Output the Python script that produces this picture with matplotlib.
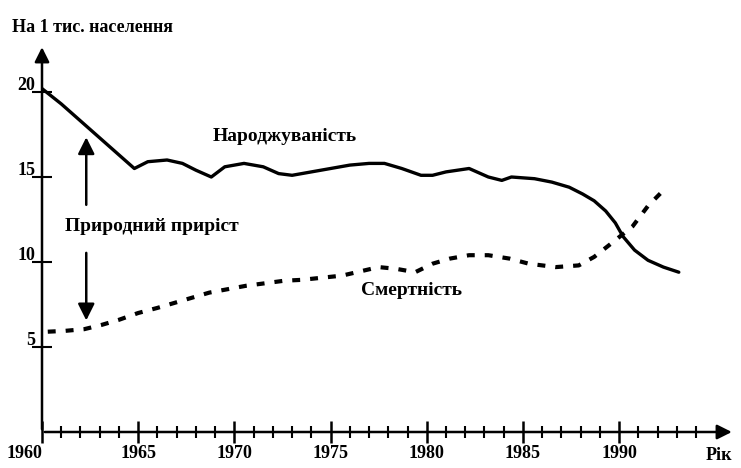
import matplotlib.pyplot as plt
import matplotlib.transforms as mtransforms

plt.rcParams['font.family'] = ['Liberation Serif', 'DejaVu Serif']
plt.rcParams['font.weight'] = 'bold'

# birth rate (solid line), per 1000 people
birth_years = [1960.0, 1961.0, 1962.0, 1963.0, 1964.0, 1964.8, 1965.5, 1966.5, 1967.3,
               1968.0, 1968.8, 1969.5, 1970.5, 1971.5, 1972.3, 1973.0, 1974.0, 1975.0,
               1976.0, 1977.0, 1977.8, 1978.7, 1979.7, 1980.3, 1981.0, 1982.2, 1983.2,
               1983.9, 1984.4, 1985.6, 1986.5, 1987.4, 1988.1, 1988.7, 1989.3, 1989.8,
               1990.2, 1990.8, 1991.5, 1992.3, 1993.1]
birth_rate = [20.2, 19.3, 18.3, 17.3, 16.3, 15.5, 15.9, 16.0, 15.8,
              15.4, 15.0, 15.6, 15.8, 15.6, 15.2, 15.1, 15.3, 15.5,
              15.7, 15.8, 15.8, 15.5, 15.1, 15.1, 15.3, 15.5, 15.0,
              14.8, 15.0, 14.9, 14.7, 14.4, 14.0, 13.6, 13.0, 12.3,
              11.5, 10.7, 10.1, 9.7, 9.4]

# death rate (dashed line)
death_years = [1960.3, 1961.2, 1962.2, 1963.1, 1964.0, 1965.0, 1966.0, 1966.9, 1968.7,
               1970.6, 1972.6, 1973.5, 1975.6, 1977.5, 1978.4, 1979.4, 1980.3, 1981.2,
               1982.2, 1983.2, 1984.3, 1985.3, 1986.7, 1987.9, 1988.7, 1989.6, 1990.7,
               1991.5, 1992.2]
death_rate = [5.9, 5.95, 6.05, 6.3, 6.6, 7.0, 7.3, 7.6, 8.2,
              8.6, 8.9, 8.95, 9.2, 9.7, 9.6, 9.4, 9.9, 10.2,
              10.4, 10.4, 10.2, 9.9, 9.7, 9.8, 10.3, 11.1, 12.1,
              13.3, 14.1]

x_labels = [1960, 1965, 1970, 1975, 1980, 1985, 1990]
y_labels = [5, 10, 15, 20]

fig = plt.figure(figsize=(7.41, 4.68), dpi=100)
ax = fig.add_axes([42 / 741, 36 / 468, 692.6 / 741, 387.6 / 468])
ax.set_xlim(1960, 1996)
ax.set_ylim(0, 22.8)
for s in ax.spines.values():
    s.set_visible(False)

ax.plot(birth_years, birth_rate, color='black', lw=2.4, solid_capstyle='round')
ax.plot(death_years, death_rate, color='black', lw=3, linestyle=(0, (1.9, 2.4)))

# axes with arrow heads
arrow = dict(arrowstyle='-|>', color='black', lw=1.8, mutation_scale=22)
ax.annotate('', xy=(1996, 0), xytext=(1960, 0), arrowprops=arrow, annotation_clip=False)
ax.annotate('', xy=(1960, 22.8), xytext=(1960, 0), arrowprops=arrow, annotation_clip=False)

ax.set_xticks(x_labels)
ax.set_xticklabels([str(v) for v in x_labels])
ax.set_xticks(range(1961, 1995), minor=True)
ax.tick_params(axis='x', which='major', direction='inout', length=16, width=1.8, pad=1, labelsize=13)
ax.tick_params(axis='x', which='minor', direction='inout', length=9, width=1.5)
ax.get_xticklabels()[0].set_ha('right')

ax.set_yticks(y_labels)
ax.set_yticklabels([str(v) for v in y_labels])
ax.tick_params(axis='y', direction='inout', length=14, width=1.5, pad=-2, labelsize=13)
offset = mtransforms.ScaledTranslation(0, 6 / 72, fig.dpi_scale_trans)
for lbl in ax.get_yticklabels():
    lbl.set_transform(lbl.get_transform() + offset)

ax.text(1995.2, -0.9, 'Рік', fontsize=13, ha='center', va='top')
fig.text(12 / 741, 1 - 27 / 468, 'На 1 тис. населення', fontsize=13, ha='left', va='center')

ax.text(1972.6, 17.4, 'Народжуваність', fontsize=14, ha='center', va='center')
ax.text(1965.7, 12.1, 'Природний приріст', fontsize=14, ha='center', va='center')
ax.text(1979.2, 8.35, 'Смертність', fontsize=14, ha='center', va='center')

# natural growth arrows
harrow = dict(arrowstyle='-|>', color='black', lw=1.8, mutation_scale=25)
ax.annotate('', xy=(1962.3, 17.5), xytext=(1962.3, 13.2), arrowprops=harrow)
ax.annotate('', xy=(1962.3, 6.4), xytext=(1962.3, 10.7), arrowprops=harrow)

plt.savefig('out.png', dpi=100)
